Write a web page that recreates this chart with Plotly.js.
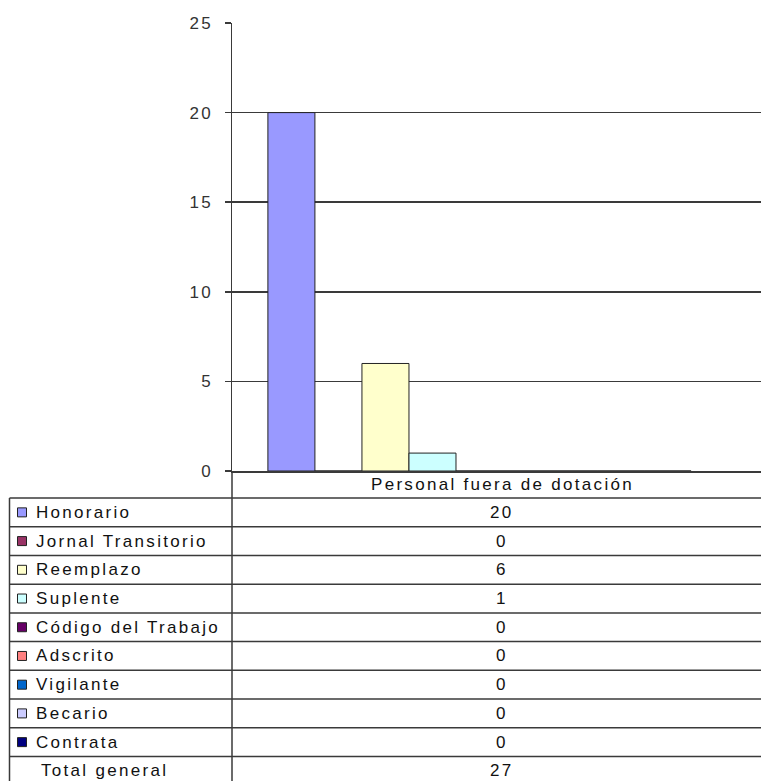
<!DOCTYPE html>
<html><head><meta charset="utf-8">
<script src="https://cdn.plot.ly/plotly-3.0.1.min.js"></script>
<style>
html,body{margin:0;padding:0;background:#fff;overflow:hidden;}
text{letter-spacing:2.3px;}
</style>
</head><body>
<div id="chart" style="width:761px;height:781px;"></div>
<script>
// ---- data ----
const category = ["Personal fuera de dotación"];
const seriesNames = ["Honorario","Jornal Transitorio","Reemplazo","Suplente","Código del Trabajo","Adscrito","Vigilante","Becario","Contrata"];
const seriesValues = [20, 0, 6, 1, 0, 0, 0, 0, 0];
const seriesColors = ["#9999FF","#993366","#FFFFCC","#CCFFFF","#660066","#FF8080","#0066CC","#CCCCFF","#000080"];
const totalLabel = "Total general";
const gridVals = [5, 10, 15, 20];

// ---- geometry (pixels) ----
const W = 761, H = 781;
const L = 232, R = 761, T = 23, B = 471;
const px = x => (x - L) / (R - L);
const py = y => (B - y) / (B - T);
const FONT = '"Liberation Sans", Arial, sans-serif';
const FS = 17;
const LINE = '#3a3a3a';
const TXT = '#111';

const traces = seriesNames.map((n, i) => ({
  type: 'bar', name: n, x: category, y: [seriesValues[i]],
  marker: {color: seriesColors[i], line: {color: '#222', width: 1}},
  hoverinfo: 'skip', showlegend: false
}));

const shapes = [];
const annotations = [];
const tableTop = 498, rowH = 28.72, leftX = 9.5, labelX = 34, valueX = 502;
const nRows = seriesNames.length + 1;

// horizontal row lines
for (let i = 0; i <= nRows; i++) {
  const y = tableTop + i * rowH;
  shapes.push({type: 'line', xref: 'paper', yref: 'paper', x0: px(leftX), x1: px(R + 20), y0: py(y), y1: py(y), line: {color: LINE, width: 1.5}});
}
// vertical lines
shapes.push({type: 'line', xref: 'paper', yref: 'paper', x0: px(leftX), x1: px(leftX), y0: py(tableTop), y1: py(H + 10), line: {color: LINE, width: 1.5}});
shapes.push({type: 'line', xref: 'paper', yref: 'paper', x0: 0, x1: 0, y0: 0, y1: py(H + 10), line: {color: LINE, width: 1.5}});

// header (category name)
annotations.push({xref: 'paper', yref: 'paper', x: px(valueX), y: py((B + tableTop) / 2), text: category[0], showarrow: false, xanchor: 'center', yanchor: 'middle', font: {family: FONT, size: FS, color: TXT}});

const total = seriesValues.reduce((a, b) => a + b, 0);
const rowLabels = seriesNames.concat([totalLabel]);
const rowValues = seriesValues.concat([total]);
rowLabels.forEach((lab, i) => {
  const cy = tableTop + (i + 0.5) * rowH;
  const isTotal = i === seriesNames.length;
  if (!isTotal) {
    shapes.push({type: 'rect', xref: 'paper', yref: 'paper', x0: px(17.5), x1: px(26.5), y0: py(cy - 4.5), y1: py(cy + 4.5), fillcolor: seriesColors[i], line: {color: '#222', width: 1}});
  }
  annotations.push({xref: 'paper', yref: 'paper', x: px(isTotal ? 39 : labelX), y: py(cy), text: lab, showarrow: false, xanchor: 'left', yanchor: 'middle', font: {family: FONT, size: FS, color: TXT}});
  annotations.push({xref: 'paper', yref: 'paper', x: px(valueX), y: py(cy), text: String(rowValues[i]), showarrow: false, xanchor: 'center', yanchor: 'middle', font: {family: FONT, size: FS, color: TXT}});
});

const layout = {
  width: W, height: H,
  margin: {l: L, r: W - R, t: T, b: H - B, pad: 0},
  paper_bgcolor: '#fff', plot_bgcolor: '#fff',
  barmode: 'group', bargap: 0.2, bargroupgap: 0,
  showlegend: false,
  xaxis: {type: 'category', range: [-(479.5 - L) / (R - L), 1 - (479.5 - L) / (R - L)], showticklabels: false, ticks: '', showgrid: false, zeroline: false, showline: true, linecolor: LINE, linewidth: 1.5, fixedrange: true},
  yaxis: {range: [0, 25], dtick: 5, tick0: 0, showgrid: false, zeroline: false, showline: true, linecolor: LINE, linewidth: 1.5,
    ticks: 'outside', ticklen: 6, tickcolor: LINE, tickwidth: 1.5, ticklabelstandoff: 8,
    tickfont: {family: FONT, size: FS, color: '#333'},
    minor: {tickvals: gridVals, showgrid: true, gridcolor: LINE, gridwidth: 1.5, ticks: ''}, fixedrange: true},
  shapes: shapes, annotations: annotations
};

Plotly.newPlot('chart', traces, layout, {staticPlot: true, displayModeBar: false});
</script>
</body></html>
